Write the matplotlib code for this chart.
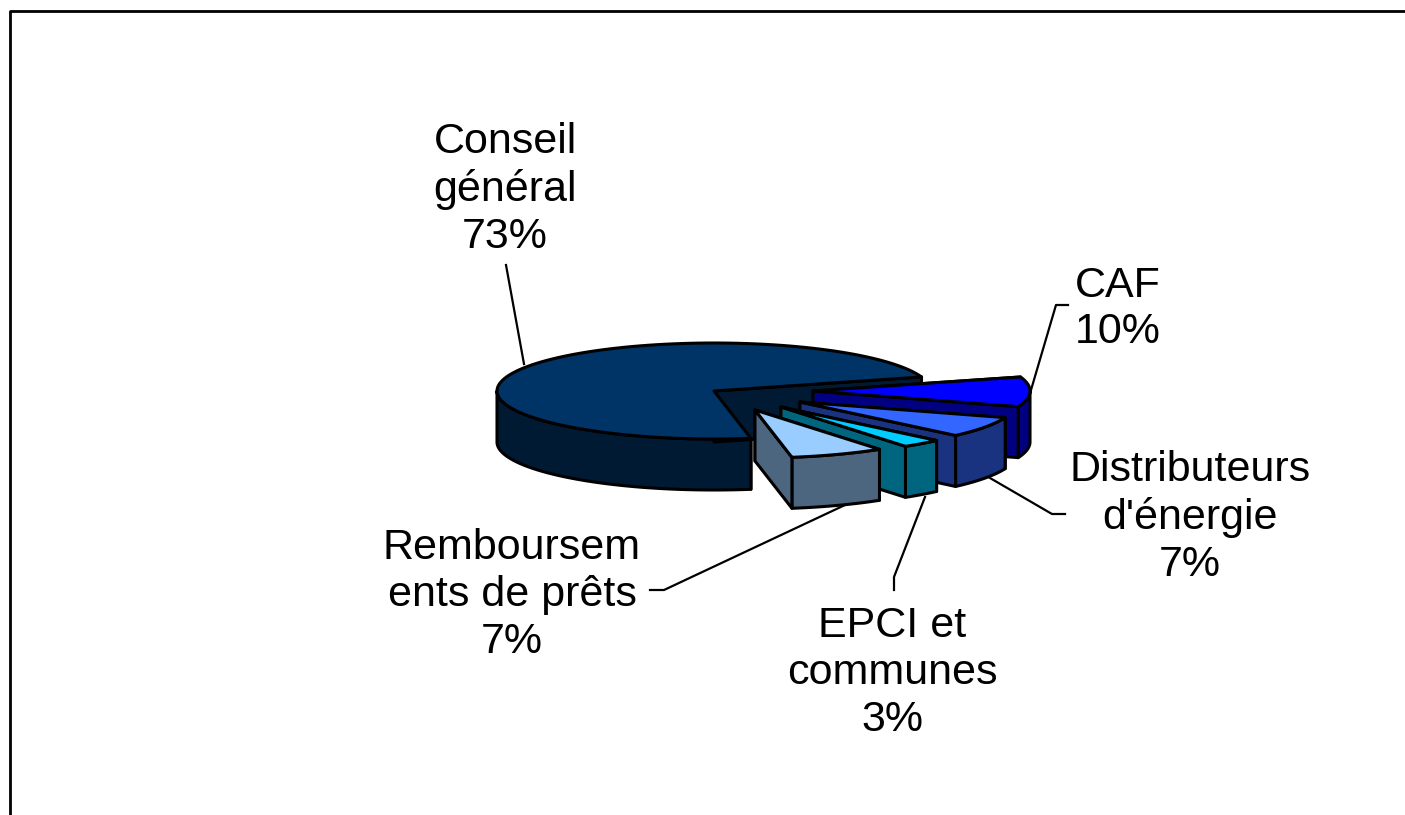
import numpy as np
import matplotlib
matplotlib.use('Agg')
import matplotlib.pyplot as plt

# Datos del grafico
noms = ['Conseil\ngénéral', 'CAF', "Distributeurs\nd'énergie", 'EPCI et\ncommunes', 'Remboursem\nents de prêts']
parts = [73, 10, 7, 3, 7]

# Colores: cara superior y costado
col_top = ['#003366', '#0000ff', '#3366ff', '#00ccff', '#99ccff']
col_side = ['#001a33', '#000080', '#1a3380', '#006680', '#4d6680']

# Geometria de la torta, en pixeles
cx, cy = 714, 391
a, b = 217, 48
prof = 51
inicio = 17
despl = [(0, 0), (99, 0), (86, 11), (67, 16), (41, 19)]
pos_txt = [(505, 189.5), (1118, 309), (1190, 517.5), (892, 673), (512, 595)]

# Lineas guia de cada etiqueta
guia_x = [[506, 524], [1068, 1056, 1031], [990, 1052, 1065], [925, 894, 894], [845, 664, 650]]
guia_y = [[265, 364], [305, 305, 390], [478, 514, 514], [497, 577, 590], [505, 590, 590]]

plt.rcParams['font.family'] = ['Liberation Sans', 'DejaVu Sans']

fig = plt.figure(figsize=(14.05, 8.15), dpi=100)
ax = fig.add_axes([0, 0, 1, 1])
ax.set_xlim(0, 1405)
ax.set_ylim(815, 0)
ax.axis('off')


def pt(c, t):
    return c[0] + a * np.cos(np.radians(t)), c[1] - b * np.sin(np.radians(t))


def dibuja(c, t1, t2, top, side):
    ts = np.linspace(t1, t2, 120)
    xs = c[0] + a * np.cos(np.radians(ts))
    ys = c[1] - b * np.sin(np.radians(ts))
    # el borde curvo solo se ve en la mitad de adelante
    r1, r2 = t1, t2
    if t1 < 0 < t2:
        r2 = 0
    if t1 < 180 < t2:
        r1 = 180
    tr = np.linspace(r1, r2, 120)
    xr = c[0] + a * np.cos(np.radians(tr))
    yr = c[1] - b * np.sin(np.radians(tr))
    kw = dict(edgecolor='black', linewidth=2.2, joinstyle='round')
    # costado oculto, borde curvo, costado visible y cara superior
    x2, y2 = pt(c, t2)
    ax.fill([c[0], x2, x2, c[0]], [c[1], y2, y2 + prof, c[1] + prof], facecolor=side, **kw)
    ax.fill(np.r_[xr, xr[::-1]], np.r_[yr, yr[::-1] + prof], facecolor=side, **kw)
    x1, y1 = pt(c, t1)
    ax.fill([c[0], x1, x1, c[0]], [c[1], y1, y1 + prof, c[1] + prof], facecolor=side, **kw)
    ax.fill(np.r_[c[0], xs], np.r_[c[1], ys], facecolor=top, **kw)


# La parte grande va desde inicio en sentido antihorario, el resto hacia abajo
angulos = [(inicio, inicio + parts[0] * 3.6)]
fin = inicio
for p in parts[1:]:
    angulos.append((fin - p * 3.6, fin))
    fin = fin - p * 3.6

for i in range(5):
    c = (cx + despl[i][0], cy + despl[i][1])
    dibuja(c, angulos[i][0], angulos[i][1], col_top[i], col_side[i])

for i in range(5):
    ax.plot(guia_x[i], guia_y[i], color='black', lw=1.6)
    ax.text(pos_txt[i][0], pos_txt[i][1], f'{noms[i]}\n{parts[i]}%', ha='center', va='center',
            fontsize=31, linespacing=1.21, color='black')

# Marco del grafico: solo arriba y a la izquierda
ax.plot([9.8, 9.8, 1405], [815, 11, 11], color='black', lw=2.0)

fig.savefig('out.png', dpi=100)
